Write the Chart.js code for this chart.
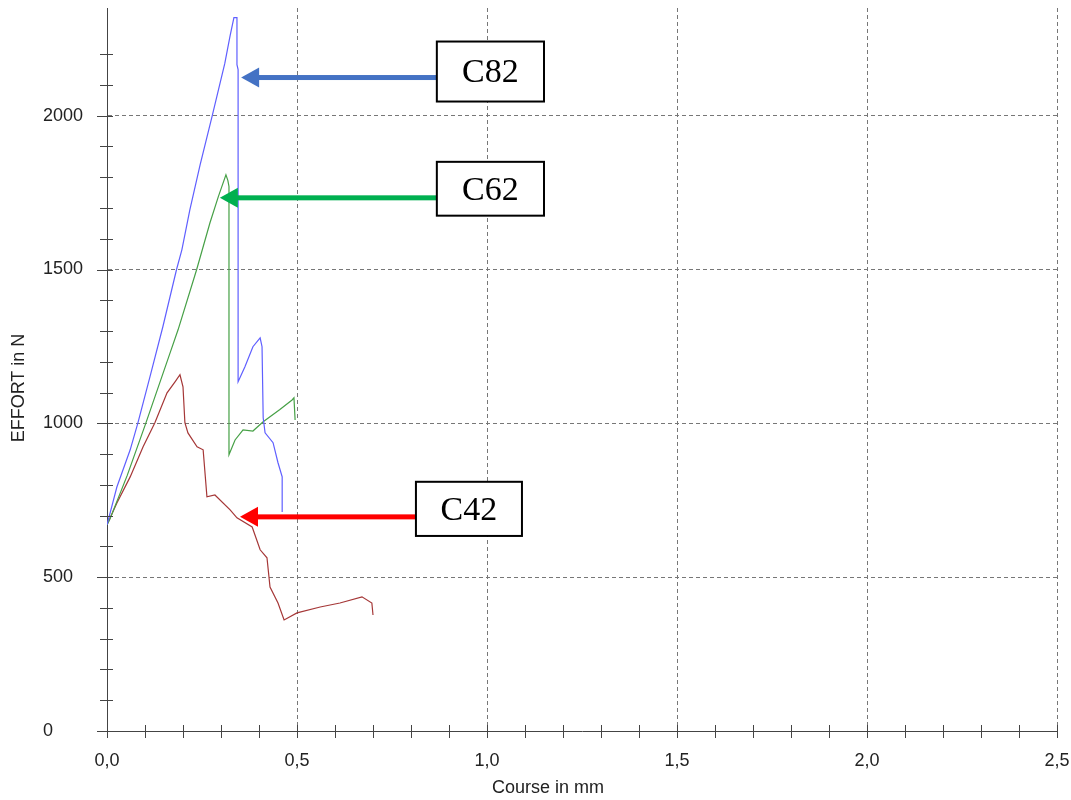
<!DOCTYPE html>
<html>
<head>
<meta charset="utf-8">
<script src="https://cdn.jsdelivr.net/npm/chart.js@4/dist/chart.umd.min.js"></script>
<style>
  html, body { margin: 0; padding: 0; background: #fff; }
  #wrap { width: 1071px; height: 800px; }
</style>
</head>
<body>
<div id="wrap"><canvas id="chart" width="1071" height="800"></canvas></div>
<script>
// ====== data (Course in mm / EFFORT in N) ======
const c82X = [0, 0.026, 0.061, 0.081, 0.113, 0.147, 0.183, 0.197, 0.218, 0.245, 0.277, 0.310, 0.324, 0.334, 0.342, 0.342, 0.345, 0.345, 0.363, 0.384, 0.403, 0.408, 0.411, 0.416, 0.437, 0.450, 0.461, 0.461];
const c82Y = [670, 793, 914, 1000, 1151, 1314, 1500, 1564, 1694, 1840, 2000, 2170, 2260, 2319, 2319, 2166, 2150, 1135, 1184, 1249, 1278, 1249, 1018, 969, 937, 872, 826, 712];

const c62X = [0, 0.008, 0.053, 0.102, 0.166, 0.187, 0.236, 0.271, 0.293, 0.313, 0.318, 0.321, 0.321, 0.337, 0.358, 0.384, 0.411, 0.455, 0.487, 0.492, 0.495];
const c62Y = [670, 690, 830, 1000, 1229, 1304, 1500, 1652, 1737, 1808, 1790, 1770, 898, 946, 979, 975, 1005, 1045, 1076, 1083, 1011];

const c42X = [0, 0.026, 0.061, 0.095, 0.126, 0.158, 0.179, 0.192, 0.200, 0.205, 0.213, 0.237, 0.253, 0.263, 0.284, 0.324, 0.342, 0.382, 0.403, 0.421, 0.429, 0.450, 0.466, 0.500, 0.561, 0.613, 0.671, 0.697, 0.700];
const c42Y = [670, 741, 826, 924, 1002, 1099, 1135, 1158, 1119, 1002, 969, 924, 914, 761, 767, 719, 693, 663, 589, 563, 468, 416, 361, 384, 403, 416, 436, 416, 377];

// axis ranges and labels
const xMin = 0, xMax = 2.5, xStep = 0.1, xLabelStep = 0.5;
const yMin = 0, yMax = 2350, yStep = 100, yLabelStep = 500;
const xTitle = 'Course in mm';
const yTitle = 'EFFORT in N';

// callouts: label, arrow tip (data), box corners (data)
const calloutNames = ['C82', 'C62', 'C42'];
const calloutColors = ['#4472c4', '#00b050', '#ff0000'];
const calloutTip = [[0.353, 2124], [0.297, 1733], [0.350, 696]];
const calloutBox = [[0.868, 2241, 1.150, 2046], [0.868, 1850, 1.150, 1675], [0.813, 810, 1.092, 634]];

function toPoints(xs, ys) {
  return xs.map((x, i) => ({ x: x, y: ys[i] }));
}

function isMultiple(v, step) {
  const r = v / step;
  return Math.abs(r - Math.round(r)) < 1e-6;
}

// tick marks crossing the axes + axis titles + callouts
const decorPlugin = {
  id: 'decor',
  afterDraw(chart) {
    const ctx = chart.ctx;
    const xs = chart.scales.x, ys = chart.scales.y;
    const area = chart.chartArea;
    ctx.save();
    ctx.strokeStyle = '#444';
    ctx.lineWidth = 1;
    ys.ticks.forEach(t => {
      if (!isMultiple(t.value, yStep)) return;
      const py = Math.round(ys.getPixelForValue(t.value)) + 0.5;
      const major = isMultiple(t.value, yLabelStep);
      ctx.beginPath();
      ctx.moveTo(area.left - (major ? 10 : 7), py);
      ctx.lineTo(area.left + 6, py);
      ctx.stroke();
    });
    xs.ticks.forEach(t => {
      if (!isMultiple(t.value, xStep)) return;
      const px = Math.round(xs.getPixelForValue(t.value)) + 0.5;
      ctx.beginPath();
      ctx.moveTo(px, area.bottom - 6);
      ctx.lineTo(px, area.bottom + 7);
      ctx.stroke();
    });

    // axis titles
    ctx.fillStyle = '#222';
    ctx.font = '18px "Liberation Sans", Arial, sans-serif';
    ctx.textAlign = 'center';
    ctx.textBaseline = 'middle';
    ctx.fillText(xTitle, 548, 788);
    ctx.save();
    ctx.translate(19, 388);
    ctx.rotate(-Math.PI / 2);
    ctx.fillText(yTitle, 0, 0);
    ctx.restore();

    // callouts
    calloutNames.forEach((name, i) => {
      const tx = xs.getPixelForValue(calloutTip[i][0]);
      const ty = ys.getPixelForValue(calloutTip[i][1]);
      const bx1 = xs.getPixelForValue(calloutBox[i][0]);
      const by1 = ys.getPixelForValue(calloutBox[i][1]);
      const bx2 = xs.getPixelForValue(calloutBox[i][2]);
      const by2 = ys.getPixelForValue(calloutBox[i][3]);
      ctx.fillStyle = calloutColors[i];
      ctx.fillRect(tx + 16, ty - 2.5, bx1 - tx - 16, 5);
      ctx.beginPath();
      ctx.moveTo(tx, ty);
      ctx.lineTo(tx + 18, ty - 10);
      ctx.lineTo(tx + 18, ty + 10);
      ctx.closePath();
      ctx.fill();
      ctx.fillStyle = '#fff';
      ctx.fillRect(bx1, by1, bx2 - bx1, by2 - by1);
      ctx.strokeStyle = '#000';
      ctx.lineWidth = 2;
      ctx.strokeRect(bx1, by1, bx2 - bx1, by2 - by1);
      ctx.fillStyle = '#000';
      ctx.font = '34px "Liberation Serif", "Times New Roman", serif';
      ctx.textAlign = 'center';
      ctx.textBaseline = 'middle';
      ctx.fillText(name, (bx1 + bx2) / 2, (by1 + by2) / 2 + 2);
    });
    ctx.restore();
  }
};

const gridColor = (step) => (c) => isMultiple(c.tick.value, step) ? '#777' : 'rgba(0,0,0,0)';

new Chart(document.getElementById('chart'), {
  type: 'scatter',
  data: {
    datasets: [
      { label: 'C82', data: toPoints(c82X, c82Y), borderColor: 'rgb(95,95,255)' },
      { label: 'C62', data: toPoints(c62X, c62Y), borderColor: 'rgb(70,160,70)' },
      { label: 'C42', data: toPoints(c42X, c42Y), borderColor: 'rgb(165,55,55)' }
    ].map(d => Object.assign(d, { showLine: true, pointRadius: 0, borderWidth: 1.2, tension: 0, fill: false }))
  },
  options: {
    responsive: false,
    animation: false,
    layout: { padding: { left: 43, top: 8, right: 14, bottom: 0 } },
    plugins: { legend: { display: false }, tooltip: { enabled: false } },
    scales: {
      x: {
        type: 'linear',
        min: xMin,
        max: xMax,
        afterFit: s => { s.height = 69; s.paddingLeft = 0; s.paddingRight = 0; },
        border: { display: true, color: '#444', width: 1, dash: [4, 3] },
        grid: { color: gridColor(xLabelStep), drawTicks: false, lineWidth: 1 },
        ticks: {
          stepSize: xStep,
          autoSkip: false,
          maxTicksLimit: 100,
          maxRotation: 0,
          padding: 19,
          color: '#222',
          font: { family: '"Liberation Sans", Arial, sans-serif', size: 18 },
          callback: v => isMultiple(v, xLabelStep) ? v.toFixed(1).replace('.', ',') : ''
        }
      },
      y: {
        type: 'linear',
        min: yMin,
        max: yMax,
        afterFit: s => { s.width = 64; s.paddingTop = 0; s.paddingBottom = 0; },
        border: { display: true, color: '#444', width: 1, dash: [4, 3] },
        grid: { color: gridColor(yLabelStep), drawTicks: false, lineWidth: 1 },
        ticks: {
          stepSize: yStep,
          autoSkip: false,
          maxTicksLimit: 100,
          crossAlign: 'far',
          color: '#222',
          font: { family: '"Liberation Sans", Arial, sans-serif', size: 18 },
          callback: v => isMultiple(v, yLabelStep) ? String(v) : ''
        }
      }
    }
  },
  plugins: [decorPlugin]
});
</script>
</body>
</html>
